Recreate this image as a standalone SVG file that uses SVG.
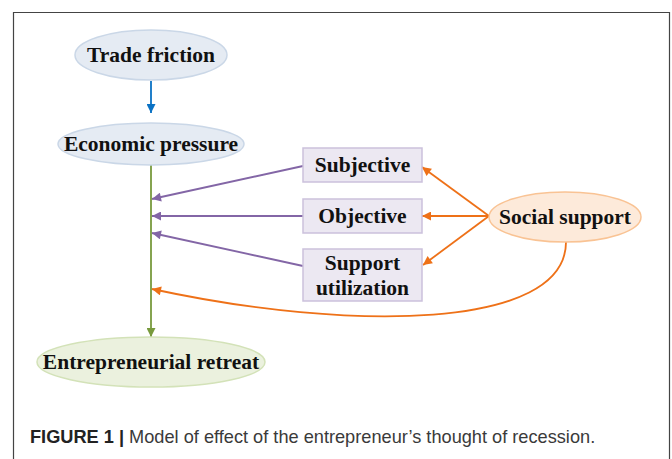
<svg xmlns="http://www.w3.org/2000/svg" width="672" height="459" viewBox="0 0 672 459">
  <style>
    .node-text { font-family: "Liberation Serif", "Times New Roman", serif; font-weight: bold; font-size: 21.5px; fill: #111; text-anchor: middle; }
    .blue-node { fill: #e5ebf3; stroke: #cad7e7; stroke-width: 1.5; }
    .green-node { fill: #ebf1de; stroke: #d3e2b8; stroke-width: 1.5; }
    .orange-node { fill: #fdeada; stroke: #f9c394; stroke-width: 1.5; }
    .box-node { fill: #ece8f2; stroke: #cbc1dc; stroke-width: 1.5; }
    .edge { fill: none; stroke-width: 1.8; }
    .caption { font-family: "Liberation Sans", Arial, sans-serif; font-size: 18.2px; fill: #3a3a3a; }
  </style>
  <defs>
    <marker id="arrow-blue" viewBox="0 0 10 10" refX="10" refY="5" markerWidth="10" markerHeight="9" markerUnits="userSpaceOnUse" orient="auto">
      <path d="M0,0 L10,5 L0,10 Z" fill="#0a72c4"/>
    </marker>
    <marker id="arrow-green" viewBox="0 0 10 10" refX="10" refY="5" markerWidth="12" markerHeight="9" markerUnits="userSpaceOnUse" orient="auto">
      <path d="M0,0 L10,5 L0,10 Z" fill="#789a3d"/>
    </marker>
    <marker id="arrow-purple" viewBox="0 0 10 10" refX="10" refY="5" markerWidth="12" markerHeight="9" markerUnits="userSpaceOnUse" orient="auto">
      <path d="M0,0 L10,5 L0,10 Z" fill="#8366a6"/>
    </marker>
    <marker id="arrow-orange" viewBox="0 0 10 10" refX="10" refY="5" markerWidth="12" markerHeight="9" markerUnits="userSpaceOnUse" orient="auto">
      <path d="M0,0 L10,5 L0,10 Z" fill="#ee7118"/>
    </marker>
  </defs>

  <rect width="672" height="459" fill="#ffffff"/>
  <!-- figure frame -->
  <path d="M13.5,459 L13.5,12.5 L669.5,12.5 L669.5,459" fill="none" stroke="#444" stroke-width="1.2"/>

  <g id="connectors">
    <line class="edge" x1="151" y1="81" x2="151" y2="113" stroke="#0a72c4" marker-end="url(#arrow-blue)"/>
    <line class="edge" x1="151" y1="165" x2="151" y2="337" stroke="#789a3d" marker-end="url(#arrow-green)"/>
    <line class="edge" x1="303" y1="166" x2="152" y2="199" stroke="#8366a6" marker-end="url(#arrow-purple)"/>
    <line class="edge" x1="303" y1="216" x2="152" y2="216" stroke="#8366a6" marker-end="url(#arrow-purple)"/>
    <line class="edge" x1="303" y1="266" x2="152" y2="233" stroke="#8366a6" marker-end="url(#arrow-purple)"/>
    <line class="edge" x1="489" y1="216" x2="422" y2="167" stroke="#ee7118" marker-end="url(#arrow-orange)"/>
    <line class="edge" x1="489" y1="216" x2="422" y2="216" stroke="#ee7118" marker-end="url(#arrow-orange)"/>
    <line class="edge" x1="489" y1="216" x2="423" y2="265" stroke="#ee7118" marker-end="url(#arrow-orange)"/>
    <path class="edge" d="M566,242 C566,330 350,332 152,289" stroke="#ee7118" marker-end="url(#arrow-orange)"/>
  </g>

  <g id="trade-friction">
    <ellipse class="blue-node" cx="151" cy="55" rx="76" ry="25"/>
    <text class="node-text" x="151" y="62">Trade friction</text>
  </g>
  <g id="economic-pressure">
    <ellipse class="blue-node" cx="151" cy="144" rx="93" ry="21"/>
    <text class="node-text" x="151" y="151">Economic pressure</text>
  </g>
  <g id="entrepreneurial-retreat">
    <ellipse class="green-node" cx="151" cy="362" rx="114" ry="25"/>
    <text class="node-text" x="151" y="369">Entrepreneurial retreat</text>
  </g>
  <g id="subjective">
    <rect class="box-node" x="303" y="148" width="119" height="34"/>
    <text class="node-text" x="362.5" y="172">Subjective</text>
  </g>
  <g id="objective">
    <rect class="box-node" x="303" y="199" width="119" height="34"/>
    <text class="node-text" x="362.5" y="223">Objective</text>
  </g>
  <g id="support-utilization">
    <rect class="box-node" x="303" y="249" width="119" height="52"/>
    <text class="node-text" x="362.5" y="270">Support</text>
    <text class="node-text" x="362.5" y="295">utilization</text>
  </g>
  <g id="social-support">
    <ellipse class="orange-node" cx="565" cy="217" rx="76" ry="25"/>
    <text class="node-text" x="565" y="224">Social support</text>
  </g>

  <text class="caption" x="30" y="443"><tspan font-weight="bold" fill="#222">FIGURE 1</tspan><tspan font-weight="bold" fill="#222"> | </tspan>Model of effect of the entrepreneur’s thought of recession.</text>
</svg>
